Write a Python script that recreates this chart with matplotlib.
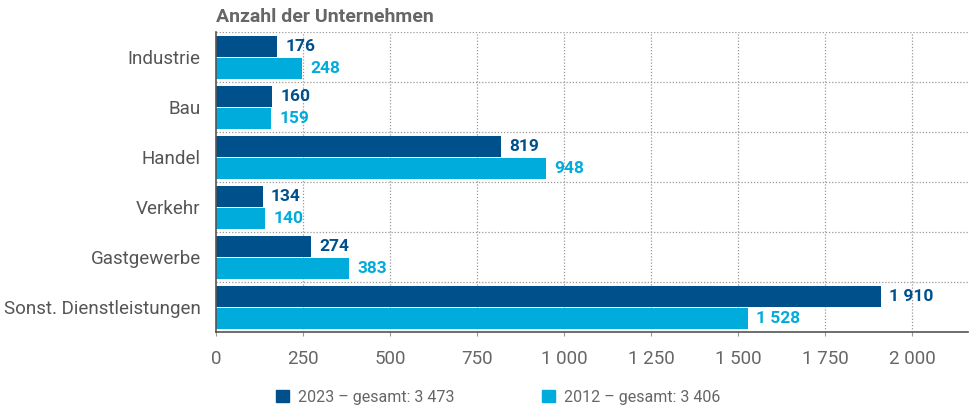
import matplotlib
matplotlib.use("Agg")
import matplotlib.pyplot as plt
from matplotlib.patches import Patch

# Data
categories = ["Industrie", "Bau", "Handel", "Verkehr", "Gastgewerbe", "Sonst. Dienstleistungen"]
values_2023 = [176, 160, 819, 134, 274, 1910]
values_2012 = [248, 159, 948, 140, 383, 1528]
x_ticks = [0, 250, 500, 750, 1000, 1250, 1500, 1750, 2000]
legend_labels = ["2023 \u2013 gesamt: 3 473", "2012 \u2013 gesamt: 3 406"]

DARK = "#00508c"
LIGHT = "#00acdc"
GRAY = "#555555"

plt.rcParams["font.family"] = ["Roboto", "DejaVu Sans"]


def fmt(v):
    return f"{v:,}".replace(",", " ")


fig = plt.figure(figsize=(9.74, 4.09), dpi=100)
ax = fig.add_axes([0.2218, 0.1883, 0.772, 0.7335])

pos = list(range(len(categories)))
h = 0.414
y_dark = [p - 0.213 for p in pos]
y_light = [p + 0.227 for p in pos]

# grid first so bars sit on top
for b in range(len(categories) + 1):
    ax.axhline(b - 0.5, color="#999999", lw=0.9, ls=(0, (1, 1.5)), zorder=0)
for t in x_ticks[1:]:
    ax.axvline(t, color="#999999", lw=0.9, ls=(0, (1, 1.5)), zorder=0)

ax.barh(y_dark, values_2023, height=h, color=DARK, zorder=2)
ax.barh(y_light, values_2012, height=h, color=LIGHT, zorder=2)

for y, v in zip(y_dark, values_2023):
    ax.text(v + 24, y, fmt(v), va="center", ha="left", color=DARK,
            fontsize=12.5, fontweight="bold")
for y, v in zip(y_light, values_2012):
    ax.text(v + 24, y, fmt(v), va="center", ha="left", color=LIGHT,
            fontsize=12.5, fontweight="bold")

ax.set_xlim(0, 2160)
ax.set_ylim(len(categories) - 0.5, -0.5)

ax.set_yticks(pos)
ax.set_yticklabels(categories, fontsize=13.5, color=GRAY)
ax.tick_params(axis="y", length=0, pad=11)

ax.set_xticks(x_ticks)
ax.set_xticklabels([fmt(t) for t in x_ticks], fontsize=13.5, color="#666666")
ax.tick_params(axis="x", length=3, color="#999999", pad=10)

for s in ["top", "right"]:
    ax.spines[s].set_visible(False)
for s in ["left", "bottom"]:
    ax.spines[s].set_color("#555555")
    ax.spines[s].set_linewidth(1.2)

fig.text(0.2218, 0.958, "Anzahl der Unternehmen", fontsize=14, fontweight="bold",
         color="#666666", ha="left", va="center")

handles = [Patch(color=DARK), Patch(color=LIGHT)]
fig.legend(handles, legend_labels, loc="center", bbox_to_anchor=(0.5116, 0.029),
           ncol=2, frameon=False, handlelength=0.8, handleheight=0.8,
           handletextpad=0.6, columnspacing=5.45, labelcolor="#666666",
           prop={"size": 11.5})

fig.savefig("out.png", dpi=100)
